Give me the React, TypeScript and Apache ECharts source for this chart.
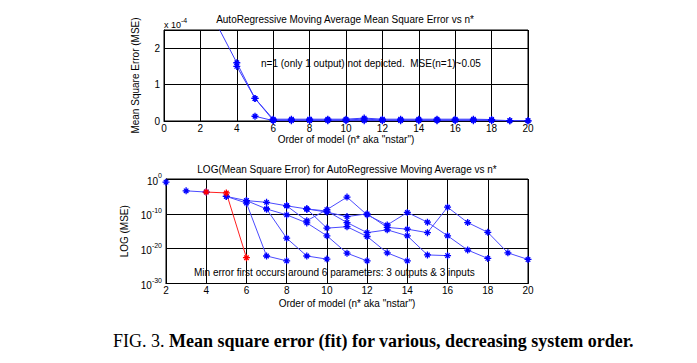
import React, { useEffect, useRef } from "react";
import * as echarts from "echarts";

// ---------- Top panel: MSE (units of 1e-4) vs model order ----------
const topA = [[3, 2.56], [4, 1.6], [5, 0.62], [6, 0.05], [7, 0.05], [8, 0.05], [9, 0.05], [10, 0.05], [11, 0.08], [12, 0.05], [13, 0.05], [14, 0.05], [15, 0.05], [16, 0.05], [17, 0.05], [18, 0.04]];
const topB = [[4, 1.5], [5, 0.62], [6, 0.02]];
const topC = [[5, 0.13], [6, 0.01], [7, 0.01], [8, 0.01], [9, 0.01], [10, 0.01], [11, 0.01], [12, 0.01], [13, 0.01], [14, 0.01], [15, 0.01], [16, 0.01], [17, 0.01], [18, 0.01], [19, 0.005], [20, 0.005]];
const topD = [[6, 0.03], [7, 0.03], [8, 0.03], [9, 0.03], [10, 0.03], [11, 0.05], [12, 0.03], [13, 0.03], [14, 0.03], [15, 0.03], [16, 0.03], [17, 0.03], [18, 0.03], [19, 0.01], [20, 0.005]];
const topSeries = [topA, topB, topC, topD];

// ---------- Bottom panel: log10(MSE) vs model order ----------
const logA = [[2, -0.9]];
const logB = [[3, -3.4], [4, -3.75]];
const logRed = [[4, -3.75], [5, -4.0], [6, -22.6]];
const logC = [[5, -5.0], [6, -6.2], [7, -6.7], [8, -7.7], [9, -8.6], [10, -14.1], [11, -13.7], [12, -16.5], [13, -21.2], [14, -23.5]];
const logD = [[5, -5.0], [6, -6.9], [7, -22.1], [8, -23.5]];
const logE = [[6, -6.2], [7, -8.6], [8, -17.0], [9, -22.1], [10, -23.0]];
const logF = [[7, -8.6], [8, -10.3], [9, -12.6], [10, -16.3], [11, -21.3], [12, -23.5]];
const logG = [[8, -7.7], [9, -12.0], [10, -8.8], [11, -5.2], [12, -10.3], [13, -13.2], [14, -9.6], [15, -12.4], [16, -16.3], [17, -20.4], [18, -22.8]];
const logH = [[9, -8.6], [10, -9.5], [11, -10.8], [12, -10.0], [13, -13.9], [14, -14.4], [15, -15.4], [16, -8.1], [17, -12.5], [18, -15.3], [19, -21.2], [20, -23.1]];
const logI = [[9, -8.6], [10, -9.2], [11, -12.5], [12, -15.4], [13, -14.6], [14, -16.3], [15, -21.8], [16, -22.0]];
const logBlueSeries = [logA, logB, logC, logD, logE, logF, logG, logH, logI];

const topXTicks = { min: 0, max: 20, step: 2 };
const botXTicks = { min: 2, max: 20, step: 2 };
const topYTicks = { min: 0, max: 2.5, step: 1 };
const botYTicks = { min: -30, max: 0, step: 10 };

const FONT = "Liberation Sans, Arial, sans-serif";
const SERIF = "Liberation Serif, Times New Roman, serif";
const STAR = "path://M5,0L5,10M0,5L10,5M1.8,1.8L8.2,8.2M1.8,8.2L8.2,1.8";

function lineSeries(data: number[][], idx: number, color: string, lineColor: string) {
  return {
    type: "line",
    xAxisIndex: idx,
    yAxisIndex: idx,
    data,
    symbol: STAR,
    symbolSize: 7,
    showAllSymbol: true,
    clip: true,
    silent: true,
    lineStyle: { color: lineColor, width: 1 },
    itemStyle: { color: "rgba(0,0,0,0)", borderColor: color, borderWidth: 1.3 },
    emphasis: { disabled: true },
  };
}

export default function App() {
  const ref = useRef<HTMLDivElement>(null);
  useEffect(() => {
    if (!ref.current) return;
    const chart = echarts.init(ref.current, undefined, { renderer: "svg" });
    const axisCommon = {
      axisLine: { show: true, onZero: false, lineStyle: { color: "#000", width: 1 } },
      axisTick: { show: true, inside: true, length: 3, lineStyle: { color: "#000" } },
      splitLine: { show: true, lineStyle: { color: "#000", width: 1 } },
    };
    const option = {
      animation: false,
      backgroundColor: "#fff",
      grid: [
        { left: 164, top: 30, width: 364, height: 91, show: true, borderColor: "#000", borderWidth: 1, backgroundColor: "transparent", containLabel: false },
        { left: 166, top: 179, width: 362, height: 104.5, show: true, borderColor: "#000", borderWidth: 1, backgroundColor: "transparent", containLabel: false },
      ],
      xAxis: [
        {
          type: "value", gridIndex: 0, min: topXTicks.min, max: topXTicks.max, interval: topXTicks.step,
          ...axisCommon,
          axisLabel: { color: "#000", fontFamily: FONT, fontSize: 10, margin: 2 },
          name: 'Order of model (n* aka "nstar")', nameLocation: "middle", nameGap: 13,
          nameTextStyle: { color: "#000", fontFamily: FONT, fontSize: 10 },
        },
        {
          type: "value", gridIndex: 1, min: botXTicks.min, max: botXTicks.max, interval: botXTicks.step,
          ...axisCommon,
          axisLabel: { color: "#000", fontFamily: FONT, fontSize: 10, margin: 2 },
          name: 'Order of model (n* aka "nstar")', nameLocation: "middle", nameGap: 15,
          nameTextStyle: { color: "#000", fontFamily: FONT, fontSize: 10 },
        },
      ],
      yAxis: [
        {
          type: "value", gridIndex: 0, min: topYTicks.min, max: topYTicks.max, interval: topYTicks.step,
          ...axisCommon,
          axisLabel: { color: "#000", fontFamily: FONT, fontSize: 10, margin: 4, showMaxLabel: false },
          name: "Mean Square Error (MSE)", nameLocation: "middle", nameGap: 24, nameRotate: 90,
          nameTextStyle: { color: "#000", fontFamily: FONT, fontSize: 10 },
        },
        {
          type: "value", gridIndex: 1, min: botYTicks.min, max: botYTicks.max, interval: botYTicks.step,
          ...axisCommon,
          axisLabel: {
            color: "#000", fontFamily: FONT, fontSize: 10, margin: 4,
            formatter: (v: number) => `{b|10}{s|${v}}`,
            rich: {
              b: { fontFamily: FONT, fontSize: 10, lineHeight: 14, verticalAlign: "bottom", color: "#000" },
              s: { fontFamily: FONT, fontSize: 7, lineHeight: 8, verticalAlign: "top", color: "#000" },
            },
          },
          name: "LOG (MSE)", nameLocation: "middle", nameGap: 28, nameRotate: 90,
          nameTextStyle: { color: "#000", fontFamily: FONT, fontSize: 10 },
        },
      ],
      series: [
        ...topSeries.map((d) => lineSeries(d, 0, "#0000ff", "#3b3bff")),
        ...logBlueSeries.map((d) => lineSeries(d, 1, "#0000ff", "#4b4bff")),
        lineSeries(logRed, 1, "#ff0000", "#ff2020"),
      ],
      graphic: [
        { type: "text", x: 345, y: 19, style: { text: "AutoRegressive Moving Average Mean Square Error vs n*", fontFamily: FONT, fontSize: 10, fill: "#000", align: "center", verticalAlign: "middle" } },
        { type: "text", x: 164, y: 23, style: { text: "{a|x 10}{s|-4}", rich: { a: { fontFamily: FONT, fontSize: 9, lineHeight: 12, verticalAlign: "bottom", fill: "#000" }, s: { fontFamily: FONT, fontSize: 7, lineHeight: 7, verticalAlign: "top", fill: "#000" } }, align: "left", verticalAlign: "middle" } },
        { type: "text", x: 261, y: 63.5, style: { text: "n=1 (only 1 output) not depicted.  MSE(n=1)~0.05", fontFamily: FONT, fontSize: 10, fill: "#000", align: "left", verticalAlign: "middle" } },
        { type: "text", x: 347, y: 169, style: { text: "LOG(Mean Square Error) for AutoRegressive Moving Average vs n*", fontFamily: FONT, fontSize: 10, fill: "#000", align: "center", verticalAlign: "middle" } },
        { type: "text", x: 194, y: 272.7, style: { text: "Min error first occurs around 6 parameters: 3 outputs & 3 inputs", fontFamily: FONT, fontSize: 10, fill: "#000", align: "left", verticalAlign: "middle" } },
        { type: "text", x: 113, y: 341, style: { text: "{n|FIG. 3. }{b|Mean square error (fit) for various, decreasing system order.}", rich: { n: { fontFamily: SERIF, fontSize: 18, fill: "#000" }, b: { fontFamily: SERIF, fontSize: 18, fontWeight: "bold", fill: "#000" } }, align: "left", verticalAlign: "middle" } },
      ],
    };
    chart.setOption(option as any);
    return () => chart.dispose();
  }, []);
  return <div ref={ref} style={{ position: "fixed", left: 0, top: 0, width: 697, height: 363 }} />;
}
